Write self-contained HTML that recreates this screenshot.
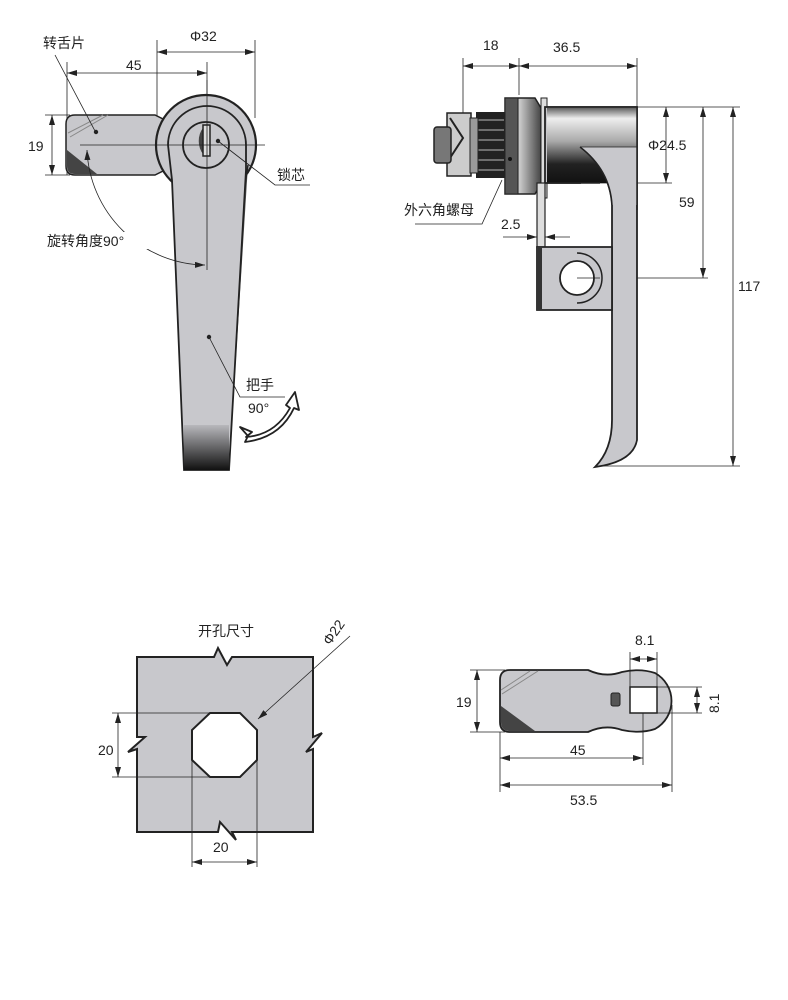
<!DOCTYPE html>
<html><head><meta charset="utf-8"><style>
html,body{margin:0;padding:0;background:#fff;}
svg{display:block;}
text{font-family:"Liberation Sans","Noto Sans CJK SC",sans-serif;font-size:14px;fill:#222;}
</style></head><body>
<svg width="788" height="1000" viewBox="0 0 788 1000" xmlns="http://www.w3.org/2000/svg">
<defs>
<marker id="a" viewBox="0 0 10 6" refX="10" refY="3" markerWidth="10" markerHeight="6" orient="auto-start-reverse" markerUnits="userSpaceOnUse"><path d="M0,0 L10,3 L0,6 Z" fill="#222"/></marker>
<linearGradient id="hd" x1="0" y1="0" x2="0" y2="1"><stop offset="0" stop-color="#b8b8bc"/><stop offset="1" stop-color="#111"/></linearGradient>
<linearGradient id="cyl" x1="0" y1="0" x2="0" y2="1"><stop offset="0" stop-color="#555"/><stop offset="0.15" stop-color="#eee"/><stop offset="0.45" stop-color="#aaa"/><stop offset="0.75" stop-color="#222"/><stop offset="1" stop-color="#111"/></linearGradient>
<linearGradient id="fl" x1="0" y1="0" x2="1" y2="0"><stop offset="0" stop-color="#222"/><stop offset="0.4" stop-color="#ccc"/><stop offset="1" stop-color="#444"/></linearGradient>
</defs>
<g stroke="#222" stroke-width="0.8" fill="none">
<line x1="157" y1="40" x2="157" y2="118"/><line x1="255" y1="40" x2="255" y2="118"/>
<line x1="157" y1="52" x2="255" y2="52" marker-start="url(#a)" marker-end="url(#a)"/>
<line x1="67" y1="62" x2="67" y2="175"/><line x1="207" y1="62" x2="207" y2="270"/>
<line x1="67" y1="73" x2="207" y2="73" marker-start="url(#a)" marker-end="url(#a)"/>
<line x1="45" y1="115" x2="70" y2="115"/><line x1="45" y1="175" x2="70" y2="175"/>
<line x1="52" y1="115" x2="52" y2="175" marker-start="url(#a)" marker-end="url(#a)"/>
</g>
<path d="M75,115 L155,115 L165,120 L165,170 L155,175 L75,175 Q66,175 66,166 L66,124 Q66,115 75,115 Z" fill="#c8c8cc" stroke="#222" stroke-width="1.5"/>
<path d="M67,150 L97,174 L75,174 Q67,174 67,166 Z" fill="#444"/>
<path d="M68,133 L103,115 M70,137 L108,115" stroke="#888" stroke-width="1"/>
<circle cx="206" cy="145" r="50" fill="#c8c8cc" stroke="#222" stroke-width="2.2"/>
<path d="M248,165 L238,230 L229,470" fill="#555" stroke="#222" stroke-width="1.5"/>
<path d="M168,145 A39,39 0 0 1 246,145 L246,170 L229,470 L184,470 L172,180 Z" fill="#c8c8cc" stroke="#222" stroke-width="1.8"/>
<rect x="184" y="425" width="45" height="45" fill="url(#hd)"/>
<circle cx="206" cy="145" r="23" fill="#c8c8cc" stroke="#222" stroke-width="1.8"/>
<path d="M203,128 A12,17 0 0 0 203,154 Z" fill="#444"/>
<rect x="203" y="125" width="7" height="31" fill="#ddd" stroke="#222" stroke-width="1.5"/>
<g stroke="#222" stroke-width="0.8" fill="none">
<line x1="80" y1="145" x2="265" y2="145"/>
<line x1="207" y1="80" x2="207" y2="270"/>
<path d="M87,150 A120,120 0 0 0 205,265" marker-start="url(#a)" marker-end="url(#a)"/>
<path d="M55,55 L95,131"/>
<path d="M218,141 L275,185 L310,185"/>
<path d="M209,337 L240,397 L285,397"/>
</g>
<circle cx="96" cy="132" r="2.2" fill="#222"/>
<circle cx="218" cy="141" r="2.2" fill="#222"/>
<circle cx="209" cy="337" r="2.2" fill="#222"/>
<rect x="46" y="232" width="103" height="17" fill="#fff"/>
<text x="43" y="48">转舌片</text>
<text x="190" y="41">Φ32</text>
<text x="126" y="70">45</text>
<text x="28" y="151">19</text>
<text x="277" y="180">锁芯</text>
<text x="47" y="246">旋转角度90°</text>
<text x="246" y="390">把手</text>
<text x="248" y="413">90°</text>
<path d="M240,427 L252,432 L246,437 Q275,435 290,408 L286,405 L295,392 L299,410 L294,408 Q280,438 245,442 L248,436 Z" fill="#fff" stroke="#222" stroke-width="1.8" stroke-linejoin="round"/>

<g stroke="#222" stroke-width="0.8" fill="none">
<line x1="463" y1="58" x2="463" y2="115"/><line x1="519" y1="58" x2="519" y2="95"/><line x1="637" y1="58" x2="637" y2="108"/>
<line x1="463" y1="66" x2="519" y2="66" marker-start="url(#a)" marker-end="url(#a)"/>
<line x1="519" y1="66" x2="637" y2="66" marker-start="url(#a)" marker-end="url(#a)"/>
<line x1="637" y1="107" x2="740" y2="107"/>
<line x1="600" y1="183" x2="672" y2="183"/>
<line x1="666" y1="107" x2="666" y2="183" marker-start="url(#a)" marker-end="url(#a)"/>
<line x1="703" y1="107" x2="703" y2="278" marker-start="url(#a)" marker-end="url(#a)"/>
<line x1="577" y1="278" x2="708" y2="278"/>
<line x1="733" y1="107" x2="733" y2="466" marker-start="url(#a)" marker-end="url(#a)"/>
<line x1="595" y1="466" x2="740" y2="466"/>
</g>
<rect x="476" y="112" width="30" height="66" fill="#222"/>
<path d="M478,120 h26 M478,130 h26 M478,140 h26 M478,150 h26 M478,160 h26 M478,170 h26" stroke="#888" stroke-width="1.5"/>
<rect x="447" y="113" width="24" height="63" fill="#ccc" stroke="#222" stroke-width="1.5"/>
<path d="M450,118 L463,138 L450,158" stroke="#222" stroke-width="2" fill="none"/>
<rect x="434" y="127" width="17" height="36" rx="3" fill="#777" stroke="#222" stroke-width="1.5"/>
<rect x="470" y="118" width="8" height="55" fill="#999" stroke="#222"/>
<path d="M505,98 L535,98 L541,108 L541,184 L535,194 L505,194 Z" fill="url(#fl)" stroke="#222" stroke-width="1.5"/>
<rect x="505" y="98" width="13" height="96" fill="#555" stroke="#222"/>
<circle cx="510" cy="159" r="2" fill="#111"/>
<rect x="541" y="98" width="6" height="100" fill="#ddd" stroke="#222"/>
<path d="M637,107 L637,440 Q633,462 595,467 Q612,450 612,420 L612,205 Q610,170 580,147 L580,183 L545,183 L545,107 Z" fill="#c8c8cc" stroke="#222" stroke-width="1.8"/>
<rect x="547" y="107" width="90" height="76" fill="url(#cyl)"/>
<path d="M580,147 Q610,170 612,205 L637,205 L637,147 Z" fill="#c8c8cc"/>
<path d="M580,147 Q610,170 612,205" fill="none" stroke="#222" stroke-width="1.5"/>
<path d="M547,107 L637,107 L637,210 M547,183 L600,183" stroke="#222" stroke-width="1.5" fill="none"/>
<line x1="580" y1="147" x2="637" y2="147" stroke="#222" stroke-width="0.8"/>
<rect x="537" y="183" width="8" height="64" fill="#ddd" stroke="#222" stroke-width="1.2"/>
<path d="M537,247 L612,247 L612,310 L537,310 Z" fill="#c8c8cc" stroke="#222" stroke-width="1.8"/>
<rect x="537" y="247" width="5" height="63" fill="#333"/>
<path d="M577,253 A25,25 0 0 1 577,303" fill="none" stroke="#222" stroke-width="1.5"/>
<circle cx="577" cy="278" r="17" fill="#fff" stroke="#222" stroke-width="1.8"/>
<g stroke="#222" stroke-width="0.8" fill="none">
<line x1="577" y1="278" x2="600" y2="278"/>
<path d="M502,180 L482,224 L415,224"/>
<line x1="503" y1="237" x2="537" y2="237" marker-end="url(#a)"/>
<line x1="570" y1="237" x2="545" y2="237" marker-end="url(#a)"/>
</g>
<text x="483" y="50">18</text>
<text x="553" y="52">36.5</text>
<text x="648" y="150">Φ24.5</text>
<text x="679" y="207">59</text>
<text x="738" y="291">117</text>
<text x="404" y="215">外六角螺母</text>
<text x="501" y="229">2.5</text>

<path d="M137,657 L214,657 L218,648 L227,665 L232,657 L313,657 L313,737 L322,733 L306,752 L313,749 L313,832 L232,832 L236,840 L220,822 L218,832 L137,832 L137,749 L128,752 L145,737 L137,737 Z" fill="#c8c8cc" stroke="#222" stroke-width="2"/>
<path d="M210,713 L240,713 L257,730 L257,760 L240,777 L210,777 L192,760 L192,730 Z" fill="#fff" stroke="#222" stroke-width="2"/>
<g stroke="#222" stroke-width="0.8" fill="none">
<line x1="112" y1="713" x2="210" y2="713"/><line x1="112" y1="777" x2="210" y2="777"/>
<line x1="118" y1="713" x2="118" y2="777" marker-start="url(#a)" marker-end="url(#a)"/>
<line x1="192" y1="760" x2="192" y2="867"/><line x1="257" y1="760" x2="257" y2="867"/>
<line x1="192" y1="862" x2="257" y2="862" marker-start="url(#a)" marker-end="url(#a)"/>
<line x1="350" y1="636" x2="258" y2="719" marker-end="url(#a)"/>
</g>
<text x="198" y="636">开孔尺寸</text>
<text x="98" y="755">20</text>
<text x="213" y="852">20</text>
<text x="0" y="0" transform="translate(330,646) rotate(-55)">Φ22</text>

<path d="M510,670 L588,670 Q605,678 622,672 Q640,668 655,673 A32,32 0 0 1 655,729 Q640,734 622,730 Q605,724 588,732 L510,732 Q500,732 500,722 L500,680 Q500,670 510,670 Z" fill="#c8c8cc" stroke="#222" stroke-width="1.8"/>
<path d="M501,706 L535,731 L510,731 Q501,731 501,722 Z" fill="#444"/>
<path d="M501,690 L530,671 M502,694 L538,671" stroke="#888"/>
<rect x="630" y="687" width="27" height="26" fill="#fff" stroke="#222" stroke-width="1.5"/>
<rect x="611" y="693" width="9" height="13" rx="2" fill="#555" stroke="#222"/>
<g stroke="#222" stroke-width="0.8" fill="none">
<line x1="630" y1="652" x2="630" y2="687"/><line x1="657" y1="652" x2="657" y2="687"/>
<line x1="630" y1="659" x2="657" y2="659" marker-start="url(#a)" marker-end="url(#a)"/>
<line x1="470" y1="670" x2="505" y2="670"/><line x1="470" y1="732" x2="505" y2="732"/>
<line x1="477" y1="670" x2="477" y2="732" marker-start="url(#a)" marker-end="url(#a)"/>
<line x1="657" y1="687" x2="702" y2="687"/><line x1="657" y1="713" x2="702" y2="713"/>
<line x1="697" y1="687" x2="697" y2="713" marker-start="url(#a)" marker-end="url(#a)"/>
<line x1="500" y1="732" x2="500" y2="792"/><line x1="643" y1="713" x2="643" y2="765"/><line x1="672" y1="705" x2="672" y2="792"/>
<line x1="500" y1="758" x2="643" y2="758" marker-start="url(#a)" marker-end="url(#a)"/>
<line x1="500" y1="785" x2="672" y2="785" marker-start="url(#a)" marker-end="url(#a)"/>
</g>
<text x="635" y="645">8.1</text>
<text x="456" y="707">19</text>
<text x="0" y="0" transform="translate(719,713) rotate(-90)">8.1</text>
<text x="570" y="755">45</text>
<text x="570" y="805">53.5</text>
</svg>
</body></html>
